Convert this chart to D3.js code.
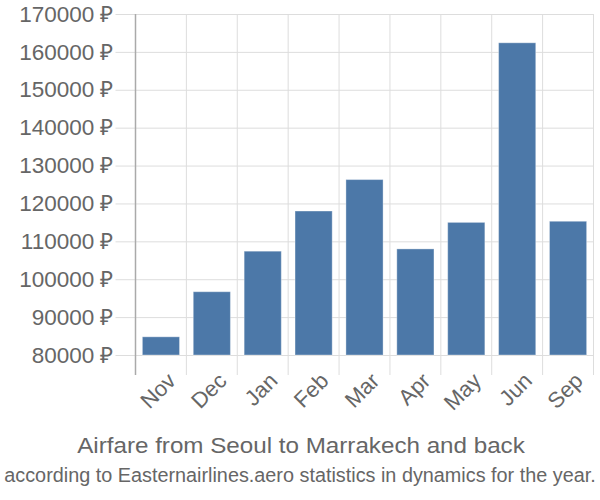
<!DOCTYPE html>
<html><head><meta charset="utf-8">
<script src="https://cdn.jsdelivr.net/npm/d3@7"></script>
<style>body{margin:0;background:#fff}svg{display:block}text{font-family:"Liberation Sans",Arial,sans-serif;fill:#666}</style>
</head><body>
<svg id="c" width="600" height="500"></svg>
<script>
const months = ["Nov","Dec","Jan","Feb","Mar","Apr","May","Jun","Sep"];
const prices = [84800, 96700, 107400, 118000, 126300, 108000, 115000, 162400, 115300];
const yTicks = [80000,90000,100000,110000,120000,130000,140000,150000,160000,170000];
const title = "Airfare from Seoul to Marrakech and back";
const subtitle = "according to Easternairlines.aero statistics in dynamics for the year.";

const svg = d3.select("#c");
const L = 135.5, R = 593.5, T = 14, B = 355;
const x = d3.scaleBand().domain(months).range([L, R]).paddingInner(0.27).paddingOuter(0.135);
const y = d3.scaleLinear().domain([80000, 170000]).range([B, T]);
const step = (R - L) / months.length;

// horizontal grid + tick labels
const yAxis = d3.axisLeft(y).tickValues(yTicks).tickSize(R - L + 20).tickPadding(2).tickFormat(d => d + " ₽");
const gy = svg.append("g").attr("transform", `translate(${R},0)`).call(yAxis);
gy.select(".domain").remove();
gy.selectAll(".tick line").attr("stroke", "#ddd").attr("stroke-width", 1);
gy.selectAll(".tick text").style("font-size", "22.5px").attr("fill", "#666");

// vertical grid
const vx = d3.range(months.length + 1).map(i => L + i * step);
svg.append("g").selectAll("line").data(vx.slice(1)).join("line")
  .attr("x1", d => d).attr("x2", d => d).attr("y1", T).attr("y2", B + 20)
  .attr("stroke", "#ddd").attr("stroke-width", 1);
svg.append("line").attr("x1", L).attr("x2", L).attr("y1", T).attr("y2", B + 20)
  .attr("stroke", "#aaa").attr("stroke-width", 1.5);

// bars
svg.append("g").selectAll("rect").data(months).join("rect")
  .attr("x", d => x(d)).attr("width", x.bandwidth())
  .attr("y", (d, i) => y(prices[i])).attr("height", (d, i) => B - y(prices[i]))
  .attr("fill", "#4c78a8").attr("stroke", "#fff").attr("stroke-opacity", 0.35).attr("stroke-width", 1);

// x labels
svg.append("g").selectAll("text").data(months).join("text")
  .attr("transform", d => `translate(${x(d) + x.bandwidth() / 2 + 5},${B + 16}) rotate(-45)`)
  .attr("text-anchor", "end").attr("dy", "0.72em")
  .style("font-size", "22px").text(d => d);

function fitText(txt, cx, cy, size, width) {
  const g = svg.append("g");
  const t = g.append("text").attr("text-anchor", "middle").style("font-size", size + "px").text(txt);
  const w = t.node().getComputedTextLength();
  g.attr("transform", `translate(${cx},${cy}) scale(${width / w},1)`);
}
fitText(title, 301, 453, 22, 448);
fitText(subtitle, 300, 482, 21, 592);
</script>
</body></html>
